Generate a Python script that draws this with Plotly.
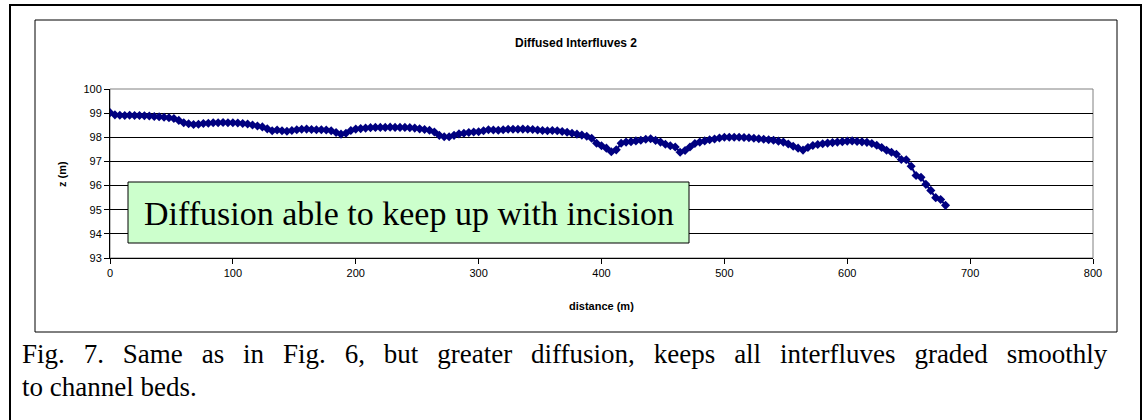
import plotly.graph_objects as go

# ---- data ----
distance = [0, 4, 8, 12, 16, 20, 24, 28, 32, 36, 40, 44, 48, 52, 56, 60, 64, 68, 72, 76,
            80, 84, 88, 92, 96, 100, 104, 108, 112, 116, 120, 124, 128, 132, 136, 140, 144, 148, 152, 156,
            160, 164, 168, 172, 176, 180, 184, 188, 192, 196, 200, 204, 208, 212, 216, 220, 224, 228, 232, 236,
            240, 244, 248, 252, 256, 260, 264, 268, 272, 276, 280, 284, 288, 292, 296, 300, 304, 308, 312, 316,
            320, 324, 328, 332, 336, 340, 344, 348, 352, 356, 360, 364, 368, 372, 376, 380, 384, 388, 392, 396,
            400, 404, 408, 412, 416, 420, 424, 428, 432, 436, 440, 444, 448, 452, 456, 460, 464, 468, 472, 476,
            480, 484, 488, 492, 496, 500, 504, 508, 512, 516, 520, 524, 528, 532, 536, 540, 544, 548, 552, 556,
            560, 564, 568, 572, 576, 580, 584, 588, 592, 596, 600, 604, 608, 612, 616, 620, 624, 628, 632, 636,
            640, 644, 648, 652, 656, 660, 664, 668, 672, 676, 680]
z = [99.02, 98.93, 98.91, 98.90, 98.91, 98.90, 98.90, 98.89, 98.88, 98.86, 98.85, 98.83, 98.81, 98.78, 98.70, 98.60, 98.56, 98.53, 98.54, 98.57,
     98.58, 98.60, 98.60, 98.61, 98.60, 98.60, 98.59, 98.57, 98.55, 98.51, 98.47, 98.43, 98.35, 98.27, 98.30, 98.27, 98.25, 98.28, 98.31, 98.33,
     98.34, 98.32, 98.31, 98.31, 98.30, 98.27, 98.20, 98.13, 98.17, 98.28, 98.34, 98.36, 98.38, 98.40, 98.41, 98.41, 98.41, 98.42, 98.41, 98.41,
     98.41, 98.40, 98.38, 98.35, 98.32, 98.29, 98.22, 98.08, 98.02, 98.02, 98.08, 98.14, 98.17, 98.20, 98.22, 98.23, 98.27, 98.31, 98.30, 98.29,
     98.31, 98.33, 98.33, 98.33, 98.34, 98.33, 98.32, 98.30, 98.28, 98.27, 98.28, 98.27, 98.24, 98.21, 98.17, 98.13, 98.09, 98.04, 97.96, 97.75,
     97.65, 97.55, 97.40, 97.48, 97.75, 97.80, 97.82, 97.85, 97.88, 97.92, 97.94, 97.87, 97.80, 97.71, 97.65, 97.60, 97.38, 97.45, 97.60, 97.74,
     97.80, 97.85, 97.90, 97.93, 97.97, 98.00, 98.00, 98.00, 98.00, 97.99, 97.98, 97.96, 97.94, 97.92, 97.90, 97.88, 97.84, 97.80, 97.72, 97.63,
     97.55, 97.47, 97.58, 97.66, 97.70, 97.73, 97.76, 97.78, 97.80, 97.82, 97.84, 97.85, 97.83, 97.81, 97.79, 97.74, 97.67, 97.58, 97.46, 97.38,
     97.30, 97.08, 97.07, 96.80, 96.42, 96.34, 96.05, 95.80, 95.50, 95.42, 95.18]

x_ticks = [0, 100, 200, 300, 400, 500, 600, 700, 800]
y_ticks = [93, 94, 95, 96, 97, 98, 99, 100]

title_text = "Diffused Interfluves 2"
x_title = "distance (m)"
y_title = "z (m)"
box_text = "Diffusion able to keep up with incision"
caption_1 = "Fig. 7. Same as in Fig. 6, but greater diffusion, keeps all interfluves graded smoothly"
caption_2 = "to channel beds."

# ---- layout geometry (pixels) ----
W, H = 1143, 420
PL, PR, PT, PB = 110, 1093, 89, 258


def px(xp):
    return (xp - PL) / (PR - PL)


def py(yp):
    return 1 - (yp - PT) / (PB - PT)


SANS = "Liberation Sans, Arial, sans-serif"
SERIF = "Liberation Serif, Times New Roman, serif"

# justified first caption line: widen the word gaps
caption_1_just = caption_1.replace(" ", "\u00a0\u00a0\u2009")

fig = go.Figure()
fig.add_trace(go.Scatter(
    x=distance, y=z, mode="lines+markers",
    line=dict(color="#000080", width=2),
    marker=dict(symbol="diamond", size=7, color="#000080"),
    showlegend=False, hoverinfo="x+y",
))

shapes = [
    # outer frame
    dict(type="rect", xref="paper", yref="paper", x0=px(10), x1=px(1141), y0=py(440), y1=py(5),
         line=dict(color="black", width=2), fillcolor="rgba(0,0,0,0)", layer="below"),
    # chart frame
    dict(type="rect", xref="paper", yref="paper", x0=px(35), x1=px(1117), y0=py(332), y1=py(20),
         line=dict(color="black", width=1), fillcolor="white", layer="below"),
    # plot area border
    dict(type="rect", xref="paper", yref="paper", x0=0, x1=1, y0=0, y1=1,
         line=dict(color="#808080", width=1), fillcolor="rgba(0,0,0,0)", layer="below"),
    # annotation box
    dict(type="rect", xref="paper", yref="paper", x0=px(128), x1=px(689), y0=py(243), y1=py(182),
         line=dict(color="black", width=1), fillcolor="#CCFFCC", layer="above"),
]

annotations = [
    dict(text="<b>" + title_text + "</b>", xref="paper", yref="paper", x=px(576), y=py(43),
         showarrow=False, font=dict(family=SANS, size=12, color="black"), xanchor="center", yanchor="middle"),
    dict(text="<b>" + x_title + "</b>", xref="paper", yref="paper", x=px(601), y=py(306),
         showarrow=False, font=dict(family=SANS, size=11, color="black"), xanchor="center", yanchor="middle"),
    dict(text="<b>" + y_title + "</b>", xref="paper", yref="paper", x=px(62), y=py(174),
         showarrow=False, textangle=-90, font=dict(family=SANS, size=11, color="black"),
         xanchor="center", yanchor="middle"),
    dict(text=box_text, xref="paper", yref="paper", x=px(409), y=py(213),
         showarrow=False, font=dict(family=SERIF, size=34, color="black"), xanchor="center", yanchor="middle"),
    dict(text=caption_1_just, xref="paper", yref="paper", x=px(20), y=py(354),
         showarrow=False, font=dict(family=SERIF, size=27, color="black"), xanchor="left", yanchor="middle"),
    dict(text=caption_2, xref="paper", yref="paper", x=px(20), y=py(387),
         showarrow=False, font=dict(family=SERIF, size=27, color="black"), xanchor="left", yanchor="middle"),
]

fig.update_layout(
    width=W, height=H,
    margin=dict(l=PL, r=W - PR, t=PT, b=H - PB, pad=0),
    paper_bgcolor="white", plot_bgcolor="#C0C0C0",
    shapes=shapes, annotations=annotations,
    font=dict(family=SANS, size=11, color="black"),
)
fig.update_xaxes(range=[0, 800], tickvals=x_ticks, ticks="outside", ticklen=5, tickcolor="black",
                 showgrid=False, zeroline=False, showline=True, linecolor="black", linewidth=1,
                 tickfont=dict(family=SANS, size=11, color="black"), fixedrange=True, automargin=False)
fig.update_yaxes(range=[93, 100], tickvals=y_ticks, ticks="outside", ticklen=5, tickcolor="black",
                 showgrid=True, gridcolor="black", gridwidth=1, zeroline=False,
                 showline=True, linecolor="black", linewidth=1,
                 tickfont=dict(family=SANS, size=11, color="black"), fixedrange=True, automargin=False)

fig.write_html("out.html", config={"displayModeBar": False},
               post_script="document.body.style.margin='0';")
